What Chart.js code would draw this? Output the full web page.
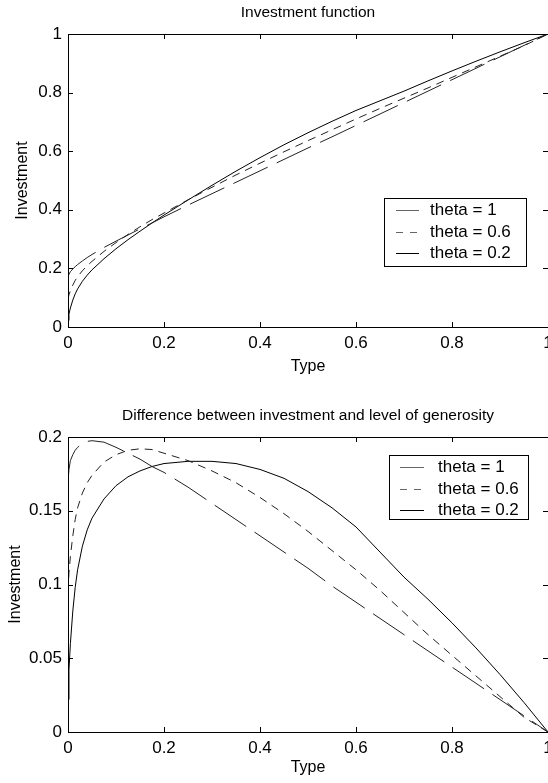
<!DOCTYPE html>
<html>
<head>
<meta charset="utf-8">
<script src="https://cdn.jsdelivr.net/npm/chart.js@4/dist/chart.umd.min.js"></script>
<style>
  html, body { margin: 0; padding: 0; background: #fff; width: 548px; height: 783px; overflow: hidden; }
  .wrap { position: absolute; left: 0; overflow: visible; }
  #w1 { top: 0; }
  #w2 { top: 395px; }
  canvas { display: block; }
</style>
</head>
<body>
<div class="wrap" id="w1"><canvas id="c1" width="580" height="395"></canvas></div>
<div class="wrap" id="w2"><canvas id="c2" width="580" height="388"></canvas></div>
<script>
// ---------- data ----------
const types = [0, 0.002, 0.005, 0.01, 0.015, 0.02, 0.03, 0.04, 0.05, 0.075, 0.1, 0.125, 0.15, 0.175, 0.2,
  0.25, 0.3, 0.35, 0.4, 0.45, 0.5, 0.55, 0.6, 0.65, 0.7, 0.75, 0.8, 0.85, 0.9, 0.95, 1];

const seriesLabels = ['theta = 1', 'theta = 0.6', 'theta = 0.2'];

// Top panel: Investment function
const investTheta1  = [0.170, 0.180, 0.189, 0.198, 0.206, 0.213, 0.2255, 0.237, 0.2475, 0.2715, 0.293, 0.314, 0.335, 0.355, 0.376,
  0.416, 0.455, 0.494, 0.533, 0.572, 0.611, 0.649, 0.688, 0.727, 0.766, 0.805, 0.844, 0.883, 0.922, 0.961, 1];
const investTheta06 = [0.095, 0.110, 0.124, 0.143, 0.159, 0.172, 0.192, 0.209, 0.224, 0.258, 0.288, 0.316, 0.342, 0.3665, 0.389,
  0.434, 0.477, 0.519, 0.559, 0.598, 0.636, 0.673, 0.710, 0.746, 0.781, 0.816, 0.852, 0.888, 0.924, 0.960, 1];
const investTheta02 = [0.022, 0.044, 0.065, 0.092, 0.113, 0.130, 0.156, 0.177, 0.195, 0.233, 0.267, 0.298, 0.327, 0.355, 0.382,
  0.4335, 0.4835, 0.532, 0.578, 0.622, 0.663, 0.702, 0.739, 0.772, 0.805, 0.840, 0.874, 0.907, 0.939, 0.970, 1];

// Bottom panel: Difference between investment and level of generosity
const diffTheta1  = [0.170, 0.178, 0.184, 0.188, 0.191, 0.193, 0.1955, 0.197, 0.1975, 0.1965, 0.193, 0.189, 0.185, 0.180, 0.176,
  0.166, 0.155, 0.144, 0.133, 0.122, 0.111, 0.099, 0.088, 0.077, 0.066, 0.055, 0.044, 0.033, 0.022, 0.011, 0];
const diffTheta06 = [0.095, 0.108, 0.119, 0.133, 0.144, 0.152, 0.162, 0.169, 0.174, 0.183, 0.188, 0.191, 0.192, 0.1915, 0.189,
  0.184, 0.177, 0.169, 0.159, 0.148, 0.136, 0.123, 0.110, 0.096, 0.081, 0.066, 0.052, 0.038, 0.024, 0.010, 0];
const diffTheta02 = [0.022, 0.042, 0.060, 0.082, 0.098, 0.110, 0.126, 0.137, 0.145, 0.158, 0.167, 0.173, 0.177, 0.180, 0.182,
  0.1835, 0.1835, 0.182, 0.178, 0.172, 0.163, 0.152, 0.139, 0.122, 0.105, 0.090, 0.074, 0.057, 0.039, 0.020, 0];

// Tick values and labels
const xTicks       = [0, 0.2, 0.4, 0.6, 0.8, 1];
const xTickLabels  = ['0', '0.2', '0.4', '0.6', '0.8', '1'];
const yTicksTop    = [0, 0.2, 0.4, 0.6, 0.8, 1];
const yTickLabelsTop = ['0', '0.2', '0.4', '0.6', '0.8', '1'];
const yTicksBottom = [0, 0.05, 0.1, 0.15, 0.2];
const yTickLabelsBottom = ['0', '0.05', '0.1', '0.15', '0.2'];

// ---------- styling ----------
const FONT = '"Liberation Sans", Arial, Helvetica, sans-serif';
const lineStyles = [
  { color: '#222', dash: [38, 10], legendColor: '#666', legendDash: [] },
  { color: '#222', dash: [8, 6],   legendColor: '#666', legendDash: [7, 7] },
  { color: '#000', dash: [],       legendColor: '#000', legendDash: [] }
];

function makeDatasets(seriesList) {
  return seriesList.map((vals, i) => ({
    label: seriesLabels[i],
    data: types.map((t, k) => ({ x: t, y: vals[k] })),
    showLine: true,
    pointRadius: 0,
    borderWidth: 1,
    borderColor: lineStyles[i].color,
    borderDash: lineStyles[i].dash,
    tension: 0,
    fill: false
  }));
}

// box + inward ticks on all four sides
const frameTicks = {
  id: 'frameTicks',
  afterDatasetsDraw(chart) {
    const { ctx, chartArea: a, scales } = chart;
    const L = 5;
    ctx.save();
    ctx.strokeStyle = '#000';
    ctx.lineWidth = 1;
    ctx.setLineDash([]);
    ctx.strokeRect(Math.round(a.left) + 0.5, Math.round(a.top) + 0.5, Math.round(a.right - a.left), Math.round(a.bottom - a.top));
    ctx.beginPath();
    scales.x.ticks.forEach(t => {
      const px = Math.round(scales.x.getPixelForValue(t.value)) + 0.5;
      ctx.moveTo(px, a.bottom); ctx.lineTo(px, a.bottom - L);
      ctx.moveTo(px, a.top); ctx.lineTo(px, a.top + L);
    });
    scales.y.ticks.forEach(t => {
      const py = Math.round(scales.y.getPixelForValue(t.value)) + 0.5;
      ctx.moveTo(a.left, py); ctx.lineTo(a.left + L, py);
      ctx.moveTo(a.right, py); ctx.lineTo(a.right - L, py);
    });
    ctx.stroke();
    ctx.restore();
  }
};

// boxed legend inside the plot area
const boxLegend = {
  id: 'boxLegend',
  afterDatasetsDraw(chart, args, o) {
    const ctx = chart.ctx;
    ctx.save();
    ctx.fillStyle = '#fff';
    ctx.fillRect(o.left, o.top, o.width, o.height);
    ctx.strokeStyle = '#000';
    ctx.lineWidth = 1;
    ctx.setLineDash([]);
    ctx.strokeRect(o.left + 0.5, o.top + 0.5, o.width, o.height);
    chart.data.datasets.forEach((ds, i) => {
      const y = Math.round(o.top + o.firstRow + i * o.rowHeight) + 0.5;
      ctx.beginPath();
      ctx.setLineDash(lineStyles[i].legendDash);
      ctx.strokeStyle = lineStyles[i].legendColor;
      ctx.moveTo(o.left + o.lineX0, y);
      ctx.lineTo(o.left + o.lineX1, y);
      ctx.stroke();
      ctx.setLineDash([]);
      ctx.fillStyle = '#000';
      ctx.font = o.fontSize + 'px ' + FONT;
      ctx.textBaseline = 'middle';
      ctx.textAlign = 'left';
      ctx.fillText(ds.label, o.left + o.textX, y);
    });
    ctx.restore();
  }
};

function makeConfig(opts) {
  return {
    type: 'scatter',
    data: { datasets: makeDatasets(opts.series) },
    options: {
      responsive: false,
      animation: false,
      devicePixelRatio: 1,
      layout: { padding: { left: 0, right: 32, top: 0, bottom: 0 } },
      plugins: {
        legend: { display: false },
        tooltip: { enabled: false },
        title: {
          display: true,
          text: opts.title,
          fullSize: false,
          color: '#000',
          font: { family: FONT, size: 15.5, weight: 'normal', lineHeight: 1.2 },
          padding: opts.titlePadding
        },
        boxLegend: opts.legend
      },
      scales: {
        x: {
          type: 'linear',
          min: 0, max: 1,
          afterBuildTicks: s => { s.ticks = xTicks.map(v => ({ value: v })); },
          afterFit: s => { s.height = opts.xHeight; },
          grid: { display: false, drawTicks: false },
          border: { display: false },
          ticks: { color: '#000', padding: 6, font: { family: FONT, size: 17 }, maxRotation: 0, autoSkip: false,
                   callback: (v, i) => xTickLabels[i] },
          title: { display: true, text: 'Type', color: '#000', font: { family: FONT, size: 16 }, padding: { top: 0, bottom: opts.xTitlePad } }
        },
        y: {
          type: 'linear',
          min: opts.yMin, max: opts.yMax,
          afterBuildTicks: s => { s.ticks = opts.yTicks.map(v => ({ value: v })); },
          afterFit: s => { s.width = 68; },
          grid: { display: false, drawTicks: false },
          border: { display: false },
          ticks: { color: '#000', padding: 6, font: { family: FONT, size: 17 }, autoSkip: false,
                   callback: (v, i) => opts.yTickLabels[i] },
          title: { display: true, text: 'Investment', color: '#000', font: { family: FONT, size: 16 }, padding: { top: opts.yTitlePad, bottom: 0 } }
        }
      }
    },
    plugins: [frameTicks, boxLegend]
  };
}

new Chart(document.getElementById('c1'), makeConfig({
  series: [investTheta1, investTheta06, investTheta02],
  title: 'Investment function',
  titlePadding: { top: 3, bottom: 12.4 },
  xHeight: 68,
  xTitlePad: 19,
  yTitlePad: 13,
  yMin: 0, yMax: 1,
  yTicks: yTicksTop,
  yTickLabels: yTickLabelsTop,
  legend: { left: 384, top: 198, width: 142, height: 68, firstRow: 12, rowHeight: 21.5, lineX0: 12, lineX1: 35, textX: 46, fontSize: 17 }
}));

new Chart(document.getElementById('c2'), makeConfig({
  series: [diffTheta1, diffTheta06, diffTheta02],
  title: 'Difference between investment and level of generosity',
  titlePadding: { top: 11, bottom: 12.4 },
  xHeight: 51,
  xTitlePad: 6,
  yTitlePad: 6,
  yMin: 0, yMax: 0.2,
  yTicks: yTicksBottom,
  yTickLabels: yTickLabelsBottom,
  legend: { left: 389, top: 60, width: 139, height: 64, firstRow: 12, rowHeight: 21.5, lineX0: 11, lineX1: 35, textX: 49, fontSize: 17 }
}));
</script>
</body>
</html>
